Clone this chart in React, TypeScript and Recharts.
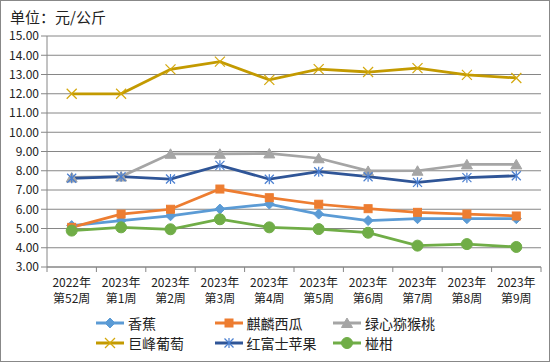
import { LineChart, Line, XAxis, YAxis, CartesianGrid, Legend } from 'recharts';

// 单位：元/公斤
const years = ['2022年', '2023年', '2023年', '2023年', '2023年', '2023年', '2023年', '2023年', '2023年', '2023年'];
const weekLabels = ['第52周', '第1周', '第2周', '第3周', '第4周', '第5周', '第6周', '第7周', '第8周', '第9周'];

const banana = [5.15, 5.41, 5.66, 6.01, 6.27, 5.75, 5.41, 5.51, 5.51, 5.51];
const watermelon = [5.06, 5.75, 6.0, 7.05, 6.6, 6.26, 6.03, 5.84, 5.75, 5.65];
const kiwi = [7.65, 7.7, 8.88, 8.88, 8.9, 8.65, 7.99, 8.0, 8.33, 8.33];
const grape = [12.0, 12.0, 13.27, 13.67, 12.72, 13.28, 13.13, 13.33, 12.98, 12.82];
const apple = [7.61, 7.69, 7.57, 8.28, 7.56, 7.95, 7.69, 7.4, 7.64, 7.74];
const mandarin = [4.89, 5.06, 4.96, 5.48, 5.06, 4.97, 4.78, 4.11, 4.19, 4.04];

const yTicks = [3, 4, 5, 6, 7, 8, 9, 10, 11, 12, 13, 14, 15];

type Shape = 'diamond' | 'square' | 'triangle' | 'x' | 'star' | 'circle';

const series: { key: string; name: string; values: number[]; line: string; marker: string; shape: Shape }[] = [
    { key: 'banana', name: '香蕉', values: banana, line: '#5B9BD5', marker: '#5B9BD5', shape: 'diamond' },
    { key: 'watermelon', name: '麒麟西瓜', values: watermelon, line: '#ED7D31', marker: '#ED7D31', shape: 'square' },
    { key: 'kiwi', name: '绿心猕猴桃', values: kiwi, line: '#A5A5A5', marker: '#A5A5A5', shape: 'triangle' },
    { key: 'grape', name: '巨峰葡萄', values: grape, line: '#C39A00', marker: '#D4A80C', shape: 'x' },
    { key: 'apple', name: '红富士苹果', values: apple, line: '#2F5597', marker: '#4A7FD0', shape: 'star' },
    { key: 'mandarin', name: '椪柑', values: mandarin, line: '#70AD47', marker: '#70AD47', shape: 'circle' },
];

const data = years.map((y, i) => {
    const row: Record<string, string | number> = { year: y, week: weekLabels[i], cat: y + weekLabels[i] };
    series.forEach((s) => {
        row[s.key] = s.values[i];
    });
    return row;
});

const FONT = '"Noto Sans CJK SC", "Noto Sans", sans-serif';
const STEP = (550 - 47 - 9) / 10;

const Marker = ({ cx, cy, shape, color }: { cx: number; cy: number; shape: Shape; color: string }) => {
    switch (shape) {
        case 'diamond':
            return <polygon points={`${cx},${cy - 5} ${cx + 5},${cy} ${cx},${cy + 5} ${cx - 5},${cy}`} fill={color} stroke={color} />;
        case 'square':
            return <rect x={cx - 4} y={cy - 4} width={8} height={8} fill={color} stroke={color} />;
        case 'triangle':
            return <polygon points={`${cx},${cy - 5} ${cx + 5.5},${cy + 4.5} ${cx - 5.5},${cy + 4.5}`} fill={color} stroke={color} />;
        case 'x':
            return (
                <g stroke={color} strokeWidth={1.2}>
                    <line x1={cx - 5} y1={cy - 5} x2={cx + 5} y2={cy + 5} />
                    <line x1={cx - 5} y1={cy + 5} x2={cx + 5} y2={cy - 5} />
                </g>
            );
        case 'star':
            return (
                <g stroke={color} strokeWidth={1.2}>
                    <line x1={cx} y1={cy - 5} x2={cx} y2={cy + 5} />
                    <line x1={cx - 4.5} y1={cy - 4.5} x2={cx + 4.5} y2={cy + 4.5} />
                    <line x1={cx - 4.5} y1={cy + 4.5} x2={cx + 4.5} y2={cy - 4.5} />
                </g>
            );
        default:
            return <circle cx={cx} cy={cy} r={5.5} fill={color} stroke={color} />;
    }
};

const XTick = (props: any) => {
    const { x, y, index } = props;
    return (
        <g>
            <line x1={x - STEP / 2} y1={y} x2={x - STEP / 2} y2={y + 5} stroke="#868686" />
            {index === years.length - 1 && <line x1={x + STEP / 2} y1={y} x2={x + STEP / 2} y2={y + 5} stroke="#868686" />}
            <text x={x} y={y + 20} textAnchor="middle" fontSize={12} fill="#222" fontFamily={FONT}>
                {years[index]}
            </text>
            <text x={x} y={y + 36} textAnchor="middle" fontSize={12} fill="#222" fontFamily={FONT}>
                {weekLabels[index]}
            </text>
        </g>
    );
};

const LegendBox = () => (
    <div style={{ position: 'relative', height: 48, width: 541, fontFamily: FONT }}>
        {series.map((s, i) => {
            const col = i % 3;
            const row = Math.floor(i / 3);
            return (
                <div
                    key={s.key}
                    style={{ position: 'absolute', left: 96 + col * 118.5, top: 6 + row * 20, height: 20, display: 'flex', alignItems: 'center' }}
                >
                    <svg width={28} height={20}>
                        <line x1={0} y1={10} x2={28} y2={10} stroke={s.line} strokeWidth={3} />
                        <Marker cx={14} cy={10} shape={s.shape} color={s.marker} />
                    </svg>
                    <span style={{ marginLeft: 4, fontSize: 14, color: '#222', lineHeight: '20px' }}>{s.name}</span>
                </div>
            );
        })}
    </div>
);

const App = () => {
    return (
        <div
            style={{
                position: 'absolute',
                left: 0,
                top: 0,
                width: 550,
                height: 362,
                boxSizing: 'border-box',
                border: '1px solid #888',
                background: '#fff',
            }}
        >
            <div style={{ position: 'absolute', left: 9, top: 5, fontSize: 15, fontFamily: FONT, color: '#222' }}>单位：元/公斤</div>
            <div style={{ position: 'absolute', left: -1, top: -1 }}>
                <LineChart width={550} height={362} data={data} margin={{ top: 36, right: 9, left: 0, bottom: 7 }}>
                    <CartesianGrid vertical={false} stroke="#868686" />
                    <XAxis
                        dataKey="cat"
                        interval={0}
                        height={40}
                        tick={<XTick />}
                        tickLine={false}
                        tickSize={0}
                        tickMargin={0}
                        axisLine={{ stroke: '#868686' }}
                        padding={{ left: STEP / 2, right: STEP / 2 }}
                    />
                    <YAxis
                        width={47}
                        domain={[3, 15]}
                        ticks={yTicks}
                        interval={0}
                        tickFormatter={(v: number) => v.toFixed(2)}
                        tick={{ fontSize: 12, fill: '#222', fontFamily: FONT }}
                        tickLine={{ stroke: '#868686' }}
                        tickSize={6}
                        tickMargin={2}
                        axisLine={{ stroke: '#868686' }}
                    />
                    <Legend verticalAlign="bottom" content={<LegendBox />} wrapperStyle={{ left: 0 }} />
                    {series.map((s) => (
                        <Line
                            key={s.key}
                            dataKey={s.key}
                            name={s.name}
                            stroke={s.line}
                            strokeWidth={2.75}
                            isAnimationActive={false}
                            dot={(p: any) => <Marker key={`${s.key}-${p.index}`} cx={p.cx} cy={p.cy} shape={s.shape} color={s.marker} />}
                            activeDot={false}
                        />
                    ))}
                </LineChart>
            </div>
        </div>
    );
};

export default App;
